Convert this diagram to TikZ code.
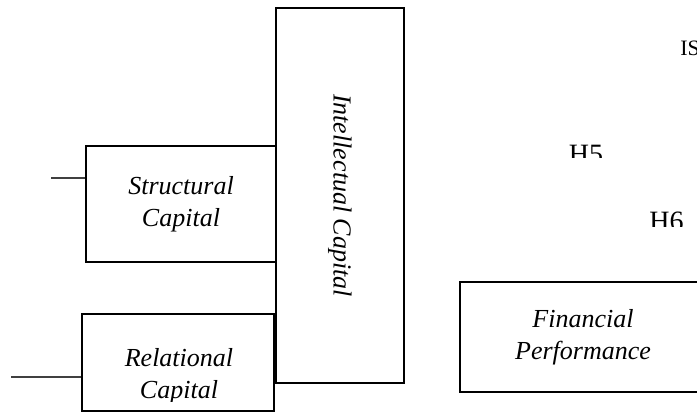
\documentclass[tikz,border=0pt]{standalone}
\usepackage{fontspec}
\setmainfont{Liberation Serif}
\usepackage{tikz}

\tikzset{
 box/.style={draw, line width=1.35pt, inner sep=0pt, align=center,
  font=\itshape\fontsize{13}{16}\selectfont},
 txt/.style={inner sep=0pt, align=center, font=\itshape\fontsize{13}{16}\selectfont},
 stub/.style={draw=black!75, line width=0.6pt},
 hyp/.style={inner sep=0pt, anchor=base, font=\fontsize{14}{16}\selectfont}
}

\begin{document}
\begin{tikzpicture}[x=0.5pt,y=-0.5pt]
 \clip (0,0) rectangle (697,414);
 \node[box, rotate=-90, minimum width=187.5pt, minimum height=64pt] (ic) at (340,195.5) {Intellectual Capital};
 \node[box, minimum width=95pt, minimum height=58pt] (sc) at (181,204) {Structural\\Capital};
 \node[box, minimum width=96pt, minimum height=48.5pt] (rc) at (178,362.5) {};
 \begin{scope}
  \clip ([yshift=5.5pt]rc.south west) rectangle (rc.north east);
  \node[txt] (rct) at (179,376) {Relational\\Capital};
 \end{scope}
 \node[box, minimum width=123pt, minimum height=55pt] (fp) at (583,337) {Financial\\Performance};
%
 \coordinate (sin) at (51,178);
 \draw[stub] (sin) -- (sin -| sc.west);
 \coordinate (rin) at (11,377);
 \draw[stub] (rin) -- (rin -| rc.west);
%
 \begin{scope}
  \clip (560,130) rectangle (620,157);
  \node[hyp] (h5) at (586,163.5) {H5};
 \end{scope}
 \begin{scope}
  \clip (640,195) rectangle (697,226);
  \node[hyp] (h6) at (666.5,230.5) {H6};
 \end{scope}
 \node[hyp, anchor=base west, font=\fontsize{11}{13}\selectfont] (is) at (680,55) {IS};
\end{tikzpicture}
\end{document}
